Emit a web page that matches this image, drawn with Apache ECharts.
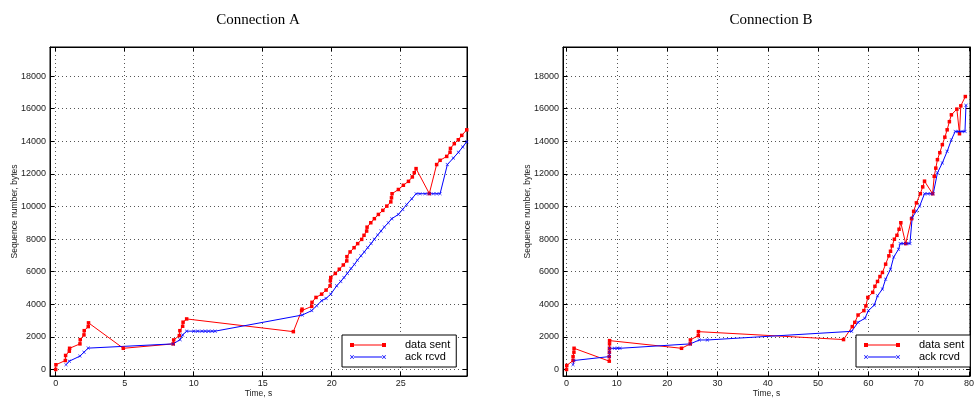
<!DOCTYPE html>
<html>
<head>
<meta charset="utf-8">
<script src="https://cdn.jsdelivr.net/npm/echarts@6/dist/echarts.min.js"></script>
<style>html,body{margin:0;padding:0;background:#fff}#c{width:977px;height:403px}</style>
</head>
<body>
<div id="c"></div>
<script>
// ---- data ----
const titles = ['Connection A', 'Connection B'];
const seriesNames = ['data sent', 'ack rcvd'];
const xTicksA = [0, 5, 10, 15, 20, 25];
const xTicksB = [0, 10, 20, 30, 40, 50, 60, 70, 80];
const yTicks = [0, 2000, 4000, 6000, 8000, 10000, 12000, 14000, 16000, 18000];

const sentA = [[0,0],[0.02,290],[0.7,550],[0.72,860],[0.99,1120],[1.01,1300],[1.76,1570],[1.78,1830],[2.05,2120],[2.07,2380],[2.36,2630],[2.38,2860],[4.9,1300],[8.52,1570],[8.55,1810],[8.96,2080],[9.0,2380],[9.2,2650],[9.23,2900],[9.49,3100],[17.22,2320],[17.82,3610],[17.85,3700],[18.55,3870],[18.57,4120],[18.86,4420],[19.27,4620],[19.59,4870],[19.88,5130],[19.9,5440],[19.93,5640],[20.26,5890],[20.55,6150],[20.84,6410],[21.09,6660],[21.1,6920],[21.33,7210],[21.62,7470],[21.88,7720],[22.17,7980],[22.34,8230],[22.53,8490],[22.56,8730],[22.83,9000],[23.09,9250],[23.38,9510],[23.7,9760],[23.99,10020],[24.28,10280],[24.33,10530],[24.37,10780],[24.83,11040],[25.19,11300],[25.56,11540],[25.84,11810],[25.98,12070],[26.11,12320],[27.07,10790],[27.6,12570],[27.85,12830],[28.33,13070],[28.57,13320],[28.6,13560],[28.88,13850],[29.17,14090],[29.42,14360],[29.78,14700]];

const ackA = [[0.75,290],[0.99,510],[1.76,820],[2.05,1060],[2.36,1310],[8.52,1570],[9.01,1830],[9.2,2120],[9.49,2350],[10.0,2350],[10.29,2350],[10.6,2350],[10.84,2350],[11.08,2350],[11.33,2350],[11.55,2350],[17.87,3340],[18.55,3610],[18.91,3910],[19.27,4220],[19.59,4360],[19.93,4620],[20.36,5130],[20.65,5400],[20.89,5640],[21.13,5890],[21.4,6190],[21.64,6440],[21.86,6700],[22.12,6970],[22.36,7210],[22.61,7480],[22.85,7720],[23.09,7990],[23.33,8250],[23.57,8490],[23.81,8740],[24.1,9000],[24.35,9250],[24.83,9510],[25.14,9820],[25.43,10120],[25.8,10470],[26.11,10780],[26.4,10780],[26.76,10780],[27.07,10780],[27.36,10780],[27.61,10780],[27.85,10780],[28.38,12570],[28.81,12970],[29.18,13320],[29.49,13650],[29.78,13970]];

const sentB = [[0,0],[0.05,245],[1.29,550],[1.3,790],[1.47,1060],[1.5,1300],[8.5,510],[8.5,790],[8.52,1060],[8.53,1300],[8.55,1570],[8.56,1770],[22.86,1300],[24.6,1570],[24.62,1810],[26.2,2080],[26.22,2320],[55.06,1835],[56.8,2630],[57.3,2890],[57.95,3340],[59.11,3610],[59.5,3900],[59.89,4420],[60.86,4730],[61.3,5100],[61.82,5400],[62.3,5700],[62.79,5950],[63.43,6460],[64.07,6970],[64.4,7250],[64.72,7580],[65.17,7990],[65.68,8230],[66.1,8600],[66.45,9000],[67.42,7720],[68.58,9250],[69.0,9700],[69.55,10220],[70.32,10780],[70.8,11200],[71.16,11550],[72.76,10780],[73.09,11850],[73.4,12350],[73.73,12870],[74.2,13300],[74.7,13790],[75.2,14250],[75.66,14700],[76.1,15200],[76.5,15620],[77.59,15970],[78.11,14460],[78.37,16170],[79.27,16740]];

const ackB = [[1.29,290],[1.47,550],[8.5,790],[8.52,1060],[8.55,1300],[9.52,1300],[10.17,1300],[10.62,1300],[24.6,1570],[26.4,1810],[28.0,1810],[56.67,2340],[57.95,2890],[59.31,3140],[60.01,3610],[61.17,3950],[61.82,4520],[62.79,4930],[63.43,5540],[64.4,6150],[65.04,6900],[66.0,7370],[66.33,7720],[67.0,7720],[67.6,7720],[68.26,7720],[68.71,9310],[69.55,9720],[70.19,10020],[71.16,10780],[71.8,10780],[72.4,10780],[72.89,10780],[73.73,12060],[74.7,12670],[75.66,13380],[76.5,14090],[77.27,14600],[77.9,14600],[78.6,14600],[79.2,14600],[79.4,16200]];

// ---- styling ----
const RED = '#ff0000', BLUE = '#0000ff';
const FONT = 'Liberation Sans, Arial, sans-serif';
const crossPath = 'path://M0,1L1,0L5,4L9,0L10,1L6,5L10,9L9,10L5,6L1,10L0,9L4,5Z';
const legendRed = 'path://M0,0h4v4h-4zM4,1.6h28v0.8h-28zM32,0h4v4h-4z';
const legendBlue = 'path://M0,0.5L0.5,0L2,1.5L3.5,0L4,0.5L2.5,2L4,3.5L3.5,4L2,2.5L0.5,4L0,3.5L1.5,2ZM4,1.6h28v0.8h-28zM32,0.5L32.5,0L34,1.5L35.5,0L36,0.5L34.5,2L36,3.5L35.5,4L34,2.5L32.5,4L32,3.5L33.5,2Z';

const grids = [
  {left: 50, top: 47, width: 417, height: 330},
  {left: 563, top: 47, width: 419, height: 330}
];
const xRanges = [[-0.41, 29.8], [-0.7, 80.2]];
const yRange = [-400, 19780];
const gridLine = {show: true, lineStyle: {color: '#555', type: [1, 3], width: 1}};

function xAxisFor(g, ticks, main) {
  return {
    type: 'value', gridIndex: g, position: main ? 'bottom' : 'top',
    min: xRanges[g][0], max: xRanges[g][1],
    axisLine: {show: true, onZero: false, lineStyle: {color: '#000', width: 1}},
    axisTick: {show: true, inside: true, length: 4, customValues: ticks, lineStyle: {color: '#000'}},
    axisLabel: {show: main, customValues: ticks, margin: 3, fontSize: 9, fontFamily: FONT, color: '#222',
      formatter: v => String(v)},
    splitLine: main ? gridLine : {show: false},
    name: main ? 'Time, s' : '', nameLocation: 'middle', nameGap: 13, nameMoveOverlap: false,
    nameTextStyle: {fontSize: 8.5, fontFamily: FONT, color: '#222'}
  };
}
function yAxisFor(g, main) {
  return {
    type: 'value', gridIndex: g, position: main ? 'left' : 'right',
    min: yRange[0], max: yRange[1],
    axisLine: {show: true, onZero: false, lineStyle: {color: '#000', width: 1}},
    axisTick: {show: true, inside: true, length: 4, customValues: yTicks, lineStyle: {color: '#000'}},
    axisLabel: {show: main, customValues: yTicks, margin: 4, fontSize: 9, fontFamily: FONT, color: '#222',
      formatter: v => String(v)},
    splitLine: main ? gridLine : {show: false},
    name: main ? 'Sequence number, bytes' : '', nameLocation: 'middle', nameGap: 31, nameRotate: 90,
    nameMoveOverlap: false,
    nameTextStyle: {fontSize: 8.5, fontFamily: FONT, color: '#222'}
  };
}
function lineSeries(name, data, g, isSent) {
  return {
    type: 'line', name: name, data: data,
    xAxisIndex: g * 2, yAxisIndex: g * 2,
    symbol: isSent ? 'rect' : crossPath,
    symbolSize: 3.5,
    showSymbol: true, showAllSymbol: true,
    itemStyle: {color: isSent ? RED : BLUE},
    lineStyle: {color: isSent ? RED : BLUE, width: 1},
    emphasis: {disabled: true},
    animation: false
  };
}
function legendFor(left) {
  return {
    left: left, top: 335, orient: 'vertical',
    padding: [4, 6, 4, 8], itemGap: 0, itemWidth: 36, itemHeight: 4,
    borderColor: '#000', borderWidth: 1, backgroundColor: '#fff',
    textStyle: {fontSize: 11, fontFamily: FONT, color: '#000', lineHeight: 12, padding: [0, 0, 0, 14]},
    data: [{name: seriesNames[0], icon: legendRed}, {name: seriesNames[1], icon: legendBlue}]
  };
}

const chart = echarts.init(document.getElementById('c'), null, {renderer: 'canvas'});
chart.setOption({
  backgroundColor: '#fff',
  animation: false,
  title: [
    {text: titles[0], left: 258, top: 13, padding: 0, textAlign: 'center',
     textStyle: {fontFamily: 'Liberation Serif, Times New Roman, serif', fontSize: 15, fontWeight: 'normal', color: '#000'}},
    {text: titles[1], left: 771, top: 13, padding: 0, textAlign: 'center',
     textStyle: {fontFamily: 'Liberation Serif, Times New Roman, serif', fontSize: 15, fontWeight: 'normal', color: '#000'}}
  ],
  grid: grids.map(g => Object.assign({show: true, borderColor: '#000', borderWidth: 1, backgroundColor: '#fff'}, g)),
  xAxis: [xAxisFor(0, xTicksA, true), xAxisFor(0, xTicksA, false), xAxisFor(1, xTicksB, true), xAxisFor(1, xTicksB, false)],
  yAxis: [yAxisFor(0, true), yAxisFor(0, false), yAxisFor(1, true), yAxisFor(1, false)],
  legend: [legendFor(342), legendFor(856)],
  series: [
    lineSeries(seriesNames[0], sentA, 0, true),
    lineSeries(seriesNames[1], ackA, 0, false),
    lineSeries(seriesNames[0], sentB, 1, true),
    lineSeries(seriesNames[1], ackB, 1, false)
  ]
});
</script>
</body>
</html>
